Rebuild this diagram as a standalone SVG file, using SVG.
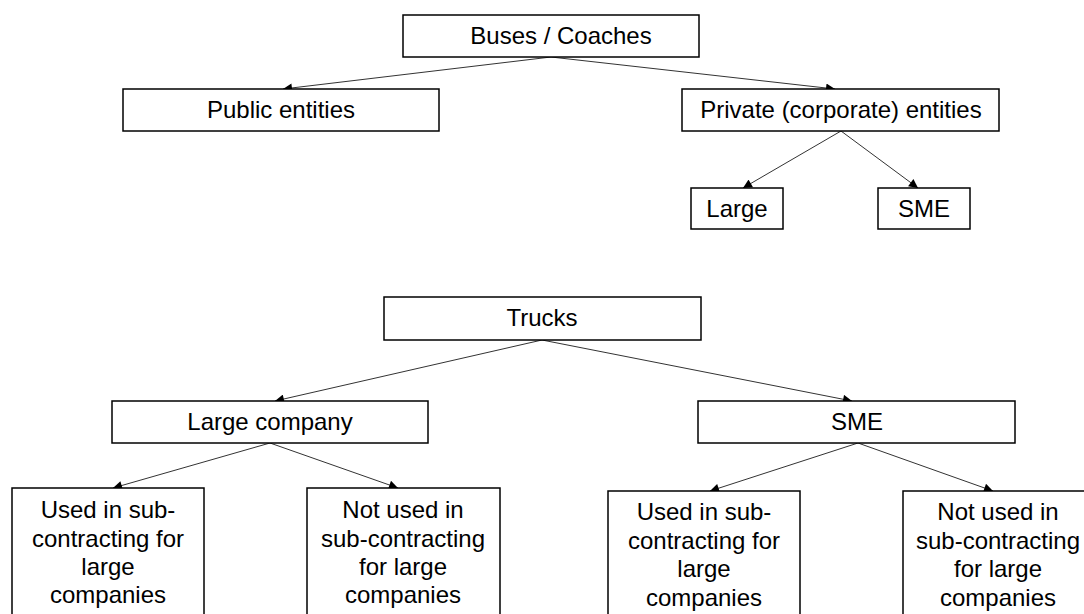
<svg xmlns="http://www.w3.org/2000/svg" width="1084" height="614" viewBox="0 0 1084 614">
<style>
.box{fill:#fff;stroke:#000;stroke-width:1.5}
.t{font-family:"Liberation Sans",Arial,sans-serif;font-size:24px;fill:#000;text-anchor:middle}
.c{stroke:#333;stroke-width:1;fill:none;marker-end:url(#ah)}
</style>
<defs>
<marker id="ah" viewBox="0 0 10 10" refX="10" refY="5" markerWidth="10" markerHeight="9" markerUnits="userSpaceOnUse" orient="auto">
<path d="M0,0 L10,5 L0,10 z" fill="#000"/>
</marker>
</defs>
<rect width="1084" height="614" fill="#fff"/>
<g id="connectors">
<line class="c" x1="551" y1="57" x2="283" y2="89"/>
<line class="c" x1="551" y1="57" x2="835" y2="89"/>
<line class="c" x1="841" y1="131" x2="743" y2="188"/>
<line class="c" x1="841" y1="131" x2="918" y2="188"/>
<line class="c" x1="542" y1="340" x2="275" y2="401"/>
<line class="c" x1="542" y1="340" x2="852" y2="401"/>
<line class="c" x1="270" y1="443" x2="113" y2="488"/>
<line class="c" x1="270" y1="443" x2="398" y2="488"/>
<line class="c" x1="858" y1="443" x2="710" y2="491"/>
<line class="c" x1="858" y1="443" x2="993" y2="491"/>
</g>
<g id="buses"><rect class="box" x="403" y="15" width="296" height="42"/><text class="t" x="561" y="44">Buses / Coaches</text></g>
<g id="public"><rect class="box" x="123" y="89" width="316" height="42"/><text class="t" x="281" y="118">Public entities</text></g>
<g id="private"><rect class="box" x="682" y="89" width="317" height="42"/><text class="t" x="841" y="118">Private (corporate) entities</text></g>
<g id="large-top"><rect class="box" x="691" y="188" width="92" height="41"/><text class="t" x="737" y="217">Large</text></g>
<g id="sme-top"><rect class="box" x="878" y="188" width="92" height="41"/><text class="t" x="924" y="217">SME</text></g>
<g id="trucks"><rect class="box" x="384" y="297" width="317" height="43"/><text class="t" x="542" y="326">Trucks</text></g>
<g id="large-company"><rect class="box" x="112" y="401" width="316" height="42"/><text class="t" x="270" y="430">Large company</text></g>
<g id="sme"><rect class="box" x="698" y="401" width="317" height="42"/><text class="t" x="857" y="430">SME</text></g>
<g id="lc-used"><rect class="box" x="12" y="488" width="192" height="140"/>
<text class="t" x="108" y="518">Used in sub-</text><text class="t" x="108" y="547">contracting for</text><text class="t" x="108" y="575">large</text><text class="t" x="108" y="603">companies</text></g>
<g id="lc-notused"><rect class="box" x="307" y="488" width="193" height="140"/>
<text class="t" x="403" y="518">Not used in</text><text class="t" x="403" y="547">sub-contracting</text><text class="t" x="403" y="575">for large</text><text class="t" x="403" y="603">companies</text></g>
<g id="sme-used"><rect class="box" x="608" y="491" width="192" height="140"/>
<text class="t" x="704" y="520">Used in sub-</text><text class="t" x="704" y="549">contracting for</text><text class="t" x="704" y="577">large</text><text class="t" x="704" y="606">companies</text></g>
<g id="sme-notused"><rect class="box" x="903" y="491" width="192" height="140"/>
<text class="t" x="998" y="520">Not used in</text><text class="t" x="998" y="549">sub-contracting</text><text class="t" x="998" y="577">for large</text><text class="t" x="998" y="606">companies</text></g>
</svg>
